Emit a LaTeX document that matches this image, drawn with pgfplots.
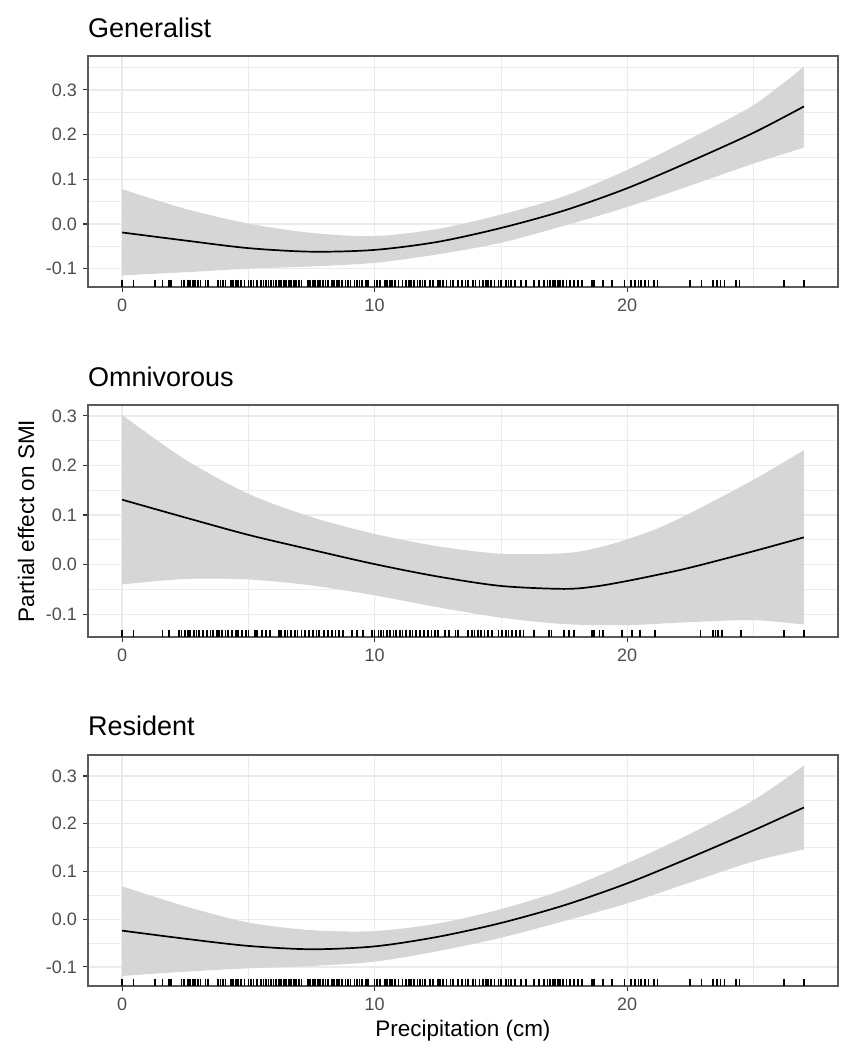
\documentclass[border=0pt]{standalone}
\usepackage{pgfplots}
\pgfplotsset{compat=1.18}
\usepgfplotslibrary{fillbetween}
\usepackage{fontspec}
\setmainfont{Liberation Sans}
\definecolor{band}{RGB}{214,214,214}
\definecolor{gridc}{RGB}{235,235,235}
\definecolor{borderc}{RGB}{90,90,90}
\definecolor{tickc}{RGB}{51,51,51}
\definecolor{labc}{RGB}{77,77,77}

\pgfplotsset{
  panel/.style={
    at={(88pt,#1)}, anchor=south west,
    scale only axis, width=750pt,
    xmin=-1.35, xmax=28.35,
    xtick={0,10,20}, xticklabels={0,10,20},
    minor xtick={5,15,25},
    ytick={-0.1,0,0.1,0.2,0.3},
    yticklabels={-0.1,0.0,0.1,0.2,0.3},
    minor ytick={-0.05,0.05,0.15,0.25,0.35},
    grid=both,
    major grid style={draw=gridc, line width=1.3pt},
    minor grid style={draw=gridc, line width=0.7pt},
    axis line style={draw=borderc, line width=1.1pt},
    tick pos=left,
    tick align=outside,
    major tick length=5pt, minor tick length=0pt,
    tick style={draw=tickc, line width=1.1pt},
    every tick label/.style={font=\fontsize{18}{20}\selectfont, text=labc},
    yticklabel style={inner sep=0pt, xshift=-6pt},
    xticklabel style={inner sep=0pt, yshift=-7pt},
    clip=true,
  },
  fitline/.style={black, line width=1.7pt, smooth},
  rug/.style={only marks, mark=|, mark size=3.7pt, black, mark options={line width=1.7pt}},
}

\begin{document}
\begin{tikzpicture}

% ---------- Generalist ----------
\begin{axis}[panel={767pt}, height=231pt, ymin=-0.141, ymax=0.376]
\addplot[name path=u1, draw=none, smooth] coordinates {
(0,0.078) (2.5,0.034) (5,0.001) (7.5,-0.020) (10,-0.027) (12.5,-0.011) (15,0.021) (17.5,0.062) (20,0.121) (22.5,0.191) (25,0.266) (27,0.352)};
\addplot[name path=l1, draw=none, smooth] coordinates {
(0,-0.115) (2.5,-0.108) (5,-0.100) (7.5,-0.095) (10,-0.087) (12.5,-0.068) (15,-0.042) (17.5,-0.004) (20,0.038) (22.5,0.086) (25,0.135) (27,0.171)};
\addplot[fill=band, draw=none] fill between[of=u1 and l1];
\addplot[fitline] coordinates {
(0,-0.019) (2.5,-0.037) (5,-0.054) (7.5,-0.062) (10,-0.058) (12.5,-0.040) (15,-0.009) (17.5,0.030) (20,0.080) (22.5,0.140) (25,0.204) (27,0.263)};
\addplot[rug] coordinates {
(0.0,-0.133) (0.45,-0.133) (1.3,-0.133) (1.6,-0.133) (1.85,-0.133) (1.95,-0.133)
(2.35,-0.133) (2.45,-0.133) (2.6,-0.133) (2.7,-0.133) (2.8,-0.133) (2.9,-0.133) (3.0,-0.133) (3.1,-0.133) (3.3,-0.133) (3.4,-0.133)
(3.8,-0.133) (3.9,-0.133) (4.0,-0.133) (4.1,-0.133) (4.3,-0.133) (4.4,-0.133) (4.5,-0.133) (4.6,-0.133) (4.7,-0.133) (4.85,-0.133) (5.0,-0.133) (5.1,-0.133) (5.2,-0.133) (5.35,-0.133)
(5.5,-0.133) (5.6,-0.133) (5.7,-0.133) (5.8,-0.133) (5.9,-0.133) (6.0,-0.133) (6.1,-0.133) (6.2,-0.133) (6.3,-0.133) (6.4,-0.133) (6.5,-0.133) (6.6,-0.133) (6.7,-0.133) (6.8,-0.133) (6.9,-0.133) (7.0,-0.133) (7.1,-0.133)
(7.35,-0.133) (7.45,-0.133) (7.55,-0.133) (7.65,-0.133) (7.75,-0.133) (7.85,-0.133) (7.95,-0.133) (8.05,-0.133) (8.15,-0.133) (8.3,-0.133) (8.4,-0.133) (8.5,-0.133) (8.6,-0.133) (8.7,-0.133) (8.85,-0.133) (8.95,-0.133) (9.05,-0.133) (9.2,-0.133) (9.3,-0.133) (9.4,-0.133) (9.5,-0.133) (9.65,-0.133) (9.75,-0.133)
(10.0,-0.133) (10.1,-0.133) (10.2,-0.133) (10.4,-0.133) (10.5,-0.133) (10.6,-0.133) (10.7,-0.133) (10.8,-0.133) (10.95,-0.133) (11.1,-0.133) (11.25,-0.133) (11.35,-0.133) (11.45,-0.133) (11.55,-0.133) (11.7,-0.133) (11.8,-0.133) (11.9,-0.133) (12.0,-0.133) (12.2,-0.133) (12.3,-0.133) (12.5,-0.133) (12.6,-0.133) (12.7,-0.133) (12.85,-0.133) (13.0,-0.133) (13.1,-0.133) (13.3,-0.133) (13.45,-0.133) (13.6,-0.133) (13.7,-0.133)
(13.9,-0.133) (14.0,-0.133) (14.15,-0.133) (14.3,-0.133) (14.4,-0.133) (14.5,-0.133) (14.6,-0.133) (14.75,-0.133) (14.9,-0.133) (15.0,-0.133) (15.2,-0.133) (15.3,-0.133) (15.4,-0.133) (15.55,-0.133) (15.8,-0.133) (16.0,-0.133) (16.3,-0.133) (16.5,-0.133) (16.7,-0.133) (16.85,-0.133) (16.95,-0.133) (17.05,-0.133) (17.15,-0.133) (17.25,-0.133) (17.35,-0.133) (17.45,-0.133) (17.6,-0.133) (17.75,-0.133) (17.9,-0.133) (18.05,-0.133) (18.2,-0.133)
(18.6,-0.133) (18.7,-0.133) (19.05,-0.133) (19.4,-0.133) (19.9,-0.133) (20.15,-0.133) (20.3,-0.133) (20.45,-0.133) (20.55,-0.133) (20.7,-0.133) (20.85,-0.133) (21.05,-0.133) (21.2,-0.133)
(22.5,-0.133) (22.95,-0.133) (23.4,-0.133) (23.55,-0.133) (23.7,-0.133) (23.85,-0.133) (24.3,-0.133) (24.45,-0.133) (26.2,-0.133) (27.0,-0.133)};
\end{axis}
\node[anchor=base west, inner sep=0pt, font=\fontsize{27}{30}\selectfont] at (88pt,1016pt) {Generalist};

% ---------- Omnivorous ----------
\begin{axis}[panel={417pt}, height=232pt, ymin=-0.146, ymax=0.322]
\addplot[name path=u2, draw=none, smooth] coordinates {
(0,0.302) (2.5,0.212) (5,0.143) (7.5,0.096) (10,0.062) (12.5,0.037) (15,0.022) (17.5,0.023) (18.75,0.033) (20,0.051) (21.25,0.074) (22.5,0.104) (25,0.171) (27,0.231)};
\addplot[name path=l2, draw=none, smooth] coordinates {
(0,-0.040) (2.5,-0.029) (5,-0.030) (7.5,-0.042) (10,-0.062) (12.5,-0.086) (15,-0.107) (17.5,-0.120) (20,-0.122) (22.5,-0.116) (25,-0.112) (27,-0.121)};
\addplot[fill=band, draw=none] fill between[of=u2 and l2];
\addplot[fitline] coordinates {
(0,0.131) (2.5,0.095) (5,0.060) (7.5,0.030) (10,0.001) (12.5,-0.024) (15,-0.043) (17.5,-0.049) (18.75,-0.044) (20,-0.033) (21.25,-0.020) (22.5,-0.006) (25,0.027) (27,0.055)};
\addplot[rug] coordinates {
(0.0,-0.139) (0.45,-0.139) (1.6,-0.139) (1.85,-0.139)
(2.25,-0.139) (2.35,-0.139) (2.5,-0.139) (2.6,-0.139) (2.7,-0.139) (2.85,-0.139) (2.95,-0.139) (3.05,-0.139) (3.2,-0.139) (3.35,-0.139)
(3.5,-0.139) (3.6,-0.139) (3.75,-0.139) (3.85,-0.139) (3.95,-0.139) (4.1,-0.139) (4.2,-0.139) (4.35,-0.139) (4.5,-0.139) (4.6,-0.139) (4.75,-0.139) (4.9,-0.139) (5.0,-0.139)
(5.25,-0.139) (5.35,-0.139) (5.55,-0.139) (5.7,-0.139) (5.85,-0.139)
(6.2,-0.139) (6.3,-0.139) (6.45,-0.139) (6.55,-0.139) (6.7,-0.139) (6.85,-0.139) (6.95,-0.139) (7.1,-0.139) (7.25,-0.139) (7.4,-0.139) (7.55,-0.139) (7.7,-0.139) (7.8,-0.139)
(8.0,-0.139) (8.15,-0.139) (8.3,-0.139) (8.45,-0.139) (8.6,-0.139) (8.75,-0.139)
(9.1,-0.139) (9.3,-0.139) (9.55,-0.139)
(9.9,-0.139) (10.0,-0.139) (10.15,-0.139) (10.25,-0.139) (10.35,-0.139) (10.5,-0.139) (10.6,-0.139) (10.75,-0.139) (10.85,-0.139) (11.0,-0.139) (11.1,-0.139) (11.25,-0.139) (11.4,-0.139) (11.5,-0.139) (11.65,-0.139) (11.8,-0.139) (11.95,-0.139) (12.1,-0.139) (12.25,-0.139) (12.4,-0.139) (12.5,-0.139)
(12.8,-0.139) (12.95,-0.139) (13.2,-0.139) (13.3,-0.139)
(13.7,-0.139) (13.85,-0.139) (13.95,-0.139) (14.1,-0.139) (14.2,-0.139) (14.35,-0.139) (14.5,-0.139) (14.65,-0.139)
(14.9,-0.139) (15.05,-0.139) (15.2,-0.139) (15.3,-0.139) (15.45,-0.139) (15.6,-0.139) (15.75,-0.139) (15.9,-0.139)
(16.3,-0.139) (16.9,-0.139) (17.0,-0.139) (17.5,-0.139) (17.7,-0.139) (17.9,-0.139)
(18.6,-0.139) (18.7,-0.139) (18.9,-0.139) (19.05,-0.139) (19.8,-0.139) (20.2,-0.139) (20.5,-0.139) (21.1,-0.139)
(22.9,-0.139) (23.4,-0.139) (23.5,-0.139) (23.6,-0.139) (23.75,-0.139) (24.5,-0.139) (26.2,-0.139) (27.0,-0.139)};
\end{axis}
\node[anchor=base west, inner sep=0pt, font=\fontsize{27}{30}\selectfont] at (88pt,667pt) {Omnivorous};

% ---------- Resident ----------
\begin{axis}[panel={68pt}, height=231pt, ymin=-0.140, ymax=0.344]
\addplot[name path=u3, draw=none, smooth] coordinates {
(0,0.069) (2.5,0.027) (5,-0.007) (7.5,-0.023) (10,-0.025) (12.5,-0.009) (15,0.021) (17.5,0.062) (20,0.117) (22.5,0.179) (25,0.249) (27,0.322)};
\addplot[name path=l3, draw=none, smooth] coordinates {
(0,-0.119) (2.5,-0.110) (5,-0.103) (7.5,-0.098) (10,-0.089) (12.5,-0.067) (15,-0.039) (17.5,-0.004) (20,0.033) (22.5,0.077) (25,0.121) (27,0.146)};
\addplot[fill=band, draw=none] fill between[of=u3 and l3];
\addplot[fitline] coordinates {
(0,-0.024) (2.5,-0.041) (5,-0.056) (7.5,-0.063) (10,-0.057) (12.5,-0.037) (15,-0.008) (17.5,0.029) (20,0.075) (22.5,0.129) (25,0.186) (27,0.234)};
\addplot[rug] coordinates {
(0.0,-0.1327) (0.45,-0.1327) (1.3,-0.1327) (1.6,-0.1327) (1.85,-0.1327) (1.95,-0.1327)
(2.35,-0.1327) (2.45,-0.1327) (2.6,-0.1327) (2.7,-0.1327) (2.8,-0.1327) (2.9,-0.1327) (3.0,-0.1327) (3.1,-0.1327) (3.3,-0.1327) (3.4,-0.1327)
(3.8,-0.1327) (3.9,-0.1327) (4.0,-0.1327) (4.1,-0.1327) (4.3,-0.1327) (4.4,-0.1327) (4.5,-0.1327) (4.6,-0.1327) (4.7,-0.1327) (4.85,-0.1327) (5.0,-0.1327) (5.1,-0.1327) (5.2,-0.1327) (5.35,-0.1327)
(5.5,-0.1327) (5.6,-0.1327) (5.7,-0.1327) (5.8,-0.1327) (5.9,-0.1327) (6.0,-0.1327) (6.1,-0.1327) (6.2,-0.1327) (6.3,-0.1327) (6.4,-0.1327) (6.5,-0.1327) (6.6,-0.1327) (6.7,-0.1327) (6.8,-0.1327) (6.9,-0.1327) (7.0,-0.1327) (7.1,-0.1327)
(7.35,-0.1327) (7.45,-0.1327) (7.55,-0.1327) (7.65,-0.1327) (7.75,-0.1327) (7.85,-0.1327) (7.95,-0.1327) (8.05,-0.1327) (8.15,-0.1327) (8.3,-0.1327) (8.4,-0.1327) (8.5,-0.1327) (8.6,-0.1327) (8.7,-0.1327) (8.85,-0.1327) (8.95,-0.1327) (9.05,-0.1327) (9.2,-0.1327) (9.3,-0.1327) (9.4,-0.1327) (9.5,-0.1327) (9.65,-0.1327) (9.75,-0.1327)
(10.0,-0.1327) (10.1,-0.1327) (10.2,-0.1327) (10.4,-0.1327) (10.5,-0.1327) (10.6,-0.1327) (10.7,-0.1327) (10.8,-0.1327) (10.95,-0.1327) (11.1,-0.1327) (11.25,-0.1327) (11.35,-0.1327) (11.45,-0.1327) (11.55,-0.1327) (11.7,-0.1327) (11.8,-0.1327) (11.9,-0.1327) (12.0,-0.1327) (12.2,-0.1327) (12.3,-0.1327) (12.5,-0.1327) (12.6,-0.1327) (12.7,-0.1327) (12.85,-0.1327) (13.0,-0.1327) (13.1,-0.1327) (13.3,-0.1327) (13.45,-0.1327) (13.6,-0.1327) (13.7,-0.1327)
(13.9,-0.1327) (14.0,-0.1327) (14.15,-0.1327) (14.3,-0.1327) (14.4,-0.1327) (14.5,-0.1327) (14.6,-0.1327) (14.75,-0.1327) (14.9,-0.1327) (15.0,-0.1327) (15.2,-0.1327) (15.3,-0.1327) (15.4,-0.1327) (15.55,-0.1327) (15.8,-0.1327) (16.0,-0.1327) (16.3,-0.1327) (16.5,-0.1327) (16.7,-0.1327) (16.85,-0.1327) (16.95,-0.1327) (17.05,-0.1327) (17.15,-0.1327) (17.25,-0.1327) (17.35,-0.1327) (17.45,-0.1327) (17.6,-0.1327) (17.75,-0.1327) (17.9,-0.1327) (18.05,-0.1327) (18.2,-0.1327)
(18.6,-0.1327) (18.7,-0.1327) (19.05,-0.1327) (19.4,-0.1327) (19.9,-0.1327) (20.15,-0.1327) (20.3,-0.1327) (20.45,-0.1327) (20.55,-0.1327) (20.7,-0.1327) (20.85,-0.1327) (21.05,-0.1327) (21.2,-0.1327)
(22.5,-0.1327) (22.95,-0.1327) (23.4,-0.1327) (23.55,-0.1327) (23.7,-0.1327) (23.85,-0.1327) (24.3,-0.1327) (24.45,-0.1327) (26.2,-0.1327) (27.0,-0.1327)};
\end{axis}
\node[anchor=base west, inner sep=0pt, font=\fontsize{27}{30}\selectfont] at (88pt,318pt) {Resident};

% axis titles
\node[anchor=base, inner sep=0pt, font=\fontsize{22.5}{25}\selectfont] at (463pt,17pt) {Precipitation (cm)};
\node[rotate=90, anchor=base, inner sep=0pt, font=\fontsize{22.5}{25}\selectfont] at (34pt,533pt) {Partial effect on SMI};
\path (0pt,0pt) rectangle (851pt,1054pt);
\end{tikzpicture}
\end{document}
